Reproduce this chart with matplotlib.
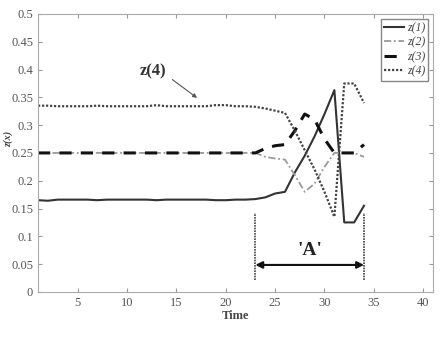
import matplotlib
matplotlib.use("Agg")
import matplotlib.pyplot as plt
import numpy as np

time = list(range(1, 35))
z1 = [0.165, 0.164, 0.166, 0.166, 0.166, 0.166, 0.165, 0.166, 0.166, 0.166,
      0.166, 0.166, 0.165, 0.166, 0.166, 0.166, 0.166, 0.166, 0.165, 0.165,
      0.166, 0.166, 0.167, 0.170, 0.177, 0.180, 0.215, 0.245, 0.280, 0.320,
      0.363, 0.125, 0.125, 0.155]
z2 = [0.25] * 23 + [0.243, 0.240, 0.238, 0.210, 0.180, 0.195, 0.225, 0.250,
                    0.250, 0.250, 0.243]
z3 = [0.25] * 23 + [0.258, 0.263, 0.265, 0.290, 0.320, 0.310, 0.275, 0.250,
                    0.250, 0.250, 0.265]
z4 = [0.335, 0.335, 0.334, 0.334, 0.334, 0.334, 0.335, 0.334, 0.334, 0.334,
      0.334, 0.334, 0.336, 0.334, 0.334, 0.334, 0.334, 0.334, 0.336, 0.336,
      0.334, 0.334, 0.333, 0.330, 0.326, 0.322, 0.290, 0.255, 0.220, 0.180,
      0.135, 0.375, 0.375, 0.340]
labels = ["z(1)", "z(2)", "z(3)", "z(4)"]
xticks = [5, 10, 15, 20, 25, 30, 35, 40]
yticks = [0, 0.05, 0.1, 0.15, 0.2, 0.25, 0.3, 0.35, 0.4, 0.45, 0.5]
ytick_labels = ["0", "0.05", "0.1", "0.15", "0.2", "0.25", "0.3", "0.35", "0.4", "0.45", "0.5"]

plt.rcParams['font.family'] = ['Liberation Serif', 'DejaVu Serif']

fig = plt.figure(figsize=(4.42, 3.41), dpi=100)
ax = fig.add_axes([0.086, 0.144, 0.894, 0.815])

ax.plot(time, z1, color="#333333", lw=1.5, ls="-", label=labels[0])
ax.plot(time, z2, color="#9a9a9a", lw=1.3, ls=(0, (4, 1.5, 1, 1.5)), label=labels[1])
ax.plot(time, z3, color="#111111", lw=2.2, ls=(0, (4, 3)), label=labels[2])
ax.plot(time, z4, color="#444444", lw=1.6, ls=(0, (1, 0.8)), label=labels[3])

ax.set_xlim(1, 41)
ax.set_ylim(0, 0.5)
ax.set_xticks(xticks)
ax.set_yticks(yticks)
ax.set_yticklabels(ytick_labels)
ax.tick_params(direction="in", top=True, right=True, labelsize=9,
               colors="#999999", labelcolor="#555555", length=3)
for s in ax.spines.values():
    s.set_color("#aaaaaa")

ax.set_xlabel("Time", fontsize=9, fontweight="bold", color="#444444", labelpad=1)
ax.set_ylabel("z(x)", fontsize=7.5, fontstyle="italic", fontweight="bold",
              color="#444444", labelpad=0)
ax.yaxis.set_label_coords(-0.062, 0.55)

leg = ax.legend(loc="upper right", fontsize=8.5, handlelength=1.7, handletextpad=0.2,
                borderpad=0.3, labelspacing=0.2, fancybox=False, framealpha=1,
                edgecolor="#888888", borderaxespad=0.4)
for t in leg.get_texts():
    t.set_fontstyle("italic")
    t.set_color("#444444")

ax.text(12.6, 0.396, "z(4)", fontsize=12, fontweight="bold", color="#333333",
        ha="center", va="center")
ax.annotate("", xy=(17.1, 0.349), xytext=(14.6, 0.382),
            arrowprops=dict(arrowstyle="-|>", color="#555555", lw=0.8,
                            shrinkA=0, shrinkB=0, mutation_scale=6))

ax.plot([23, 23], [0.022, 0.142], color="#444444", lw=1.2, ls=(0, (1, 0.6)))
ax.plot([34, 34], [0.022, 0.142], color="#444444", lw=1.2, ls=(0, (1, 0.6)))
ax.annotate("", xy=(23, 0.0485), xytext=(34, 0.0485),
            arrowprops=dict(arrowstyle="<|-|>", color="#111111", lw=1.5,
                            shrinkA=0, shrinkB=0, mutation_scale=10))
ax.text(28.5, 0.074, "'A'", fontsize=14, fontweight="bold", color="#222222",
        ha="center", va="center")

fig.savefig("out.png", dpi=100)
